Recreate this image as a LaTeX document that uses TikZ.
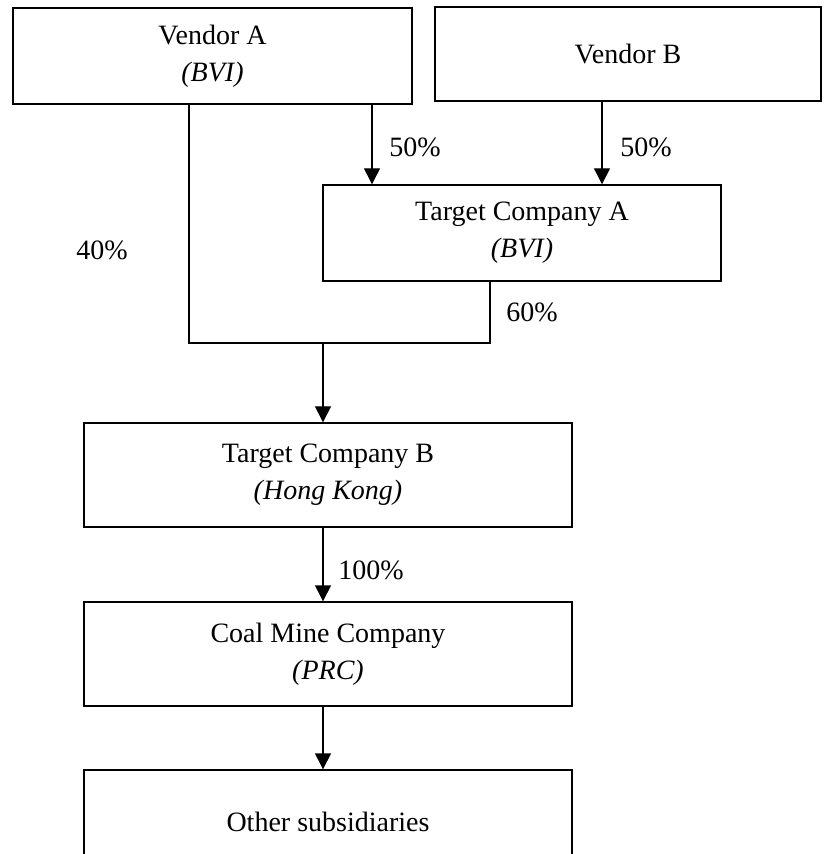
\documentclass[tikz,border=0pt]{standalone}
\usepackage{fontspec}
\setmainfont{Liberation Serif}
\usetikzlibrary{arrows.meta}

\begin{document}
\begin{tikzpicture}[
   x=0.5pt, y=-0.5pt,
   box/.style={
     draw,
     line width=0.7pt,
     align=center,
     inner sep=0pt,
     minimum height=#1,
     font=\fontsize{14}{18.5}\selectfont,
    },
   arr/.style={
     line width=0.7pt,
     -{Triangle[width=8pt,length=8pt]},
    },
   ln/.style={line width=0.7pt},
   pct/.style={font=\fontsize{14}{17}\selectfont},
  ]
\useasboundingbox (0,0) rectangle (824,854);

\node[box=48pt, minimum width=199.5pt] (vA) at (212.5,56) {Vendor A\\\textit{(BVI)}};
\node[box=47pt, minimum width=193pt] (vB) at (628,54) {Vendor B};
\node[box=48pt, minimum width=199pt] (tA) at (522,233) {Target Company A\\\textit{(BVI)}};
\node[box=52pt, minimum width=244pt] (tB) at (328,475) {Target Company B\\\textit{(Hong Kong)}};
\node[box=52pt, minimum width=244pt] (coal) at (328,654) {Coal Mine Company\\\textit{(PRC)}};
\node[box=52pt, minimum width=244pt] (other) at (328,822) {Other subsidiaries};

\coordinate (xa) at (372,0);
\coordinate (xb) at (602,0);
\coordinate (xl) at (189,0);
\coordinate (xr) at (490,0);
\coordinate (j) at (323,343);

\draw[arr] (vA.south -| xa) -- (tA.north -| xa);
\draw[arr] (vB.south -| xb) -- (tA.north -| xb);
\draw[ln] (vA.south -| xl) |- (j);
\draw[ln] (tA.south -| xr) |- (j);
\draw[arr] (j) -- (tB.north -| j);
\draw[arr] (tB.south -| j) -- (coal.north -| j);
\draw[arr] (coal.south -| j) -- (other.north -| j);

\node[pct] (p1) at (415,147) {50\%};
\node[pct] (p2) at (646,147) {50\%};
\node[pct] (p3) at (102,250) {40\%};
\node[pct] (p4) at (532,312) {60\%};
\node[pct] (p5) at (371,570) {100\%};
\end{tikzpicture}
\end{document}
